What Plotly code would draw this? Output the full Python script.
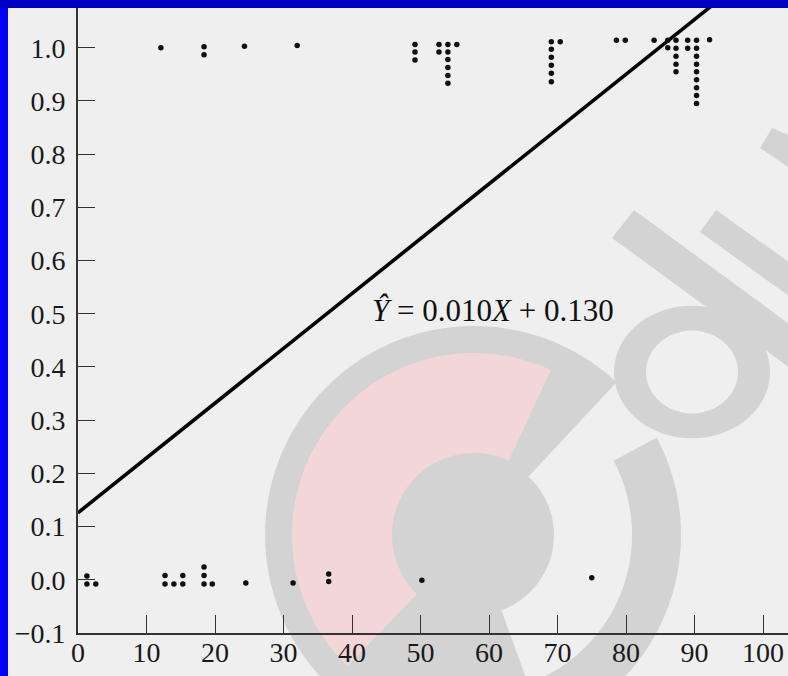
import math
import plotly.graph_objects as go

# ---------------- data ----------------
# observations with Y = 0 (stacked dots drawn slightly apart)
y0_x = [1.3, 1.3, 2.6, 12.7, 12.7, 14.0, 15.3, 15.3, 18.4, 18.4, 18.4, 19.6,
        24.5, 31.4, 36.6, 36.6, 50.2, 75.0]
y0_y = [0.007, -0.008, -0.008, 0.008, -0.008, -0.008, 0.008, -0.008, 0.024,
        0.008, -0.008, -0.008, -0.006, -0.006, 0.011, -0.003, -0.001, 0.004]

# observations with Y = 1 (stacked dots hang downwards)
y1_x = [12.1, 18.4, 18.4, 24.3, 32.0,
        49.2, 49.2, 49.2,
        52.7, 52.7,
        54.0, 54.0, 54.0, 54.0, 54.0, 54.0,
        55.3,
        69.1, 69.1, 69.1, 69.1, 69.1, 69.1,
        70.4,
        78.6, 79.9, 84.1,
        86.1, 86.1,
        87.3, 87.3, 87.3, 87.3, 87.3,
        89.0, 89.0,
        90.3, 90.3, 90.3, 90.3, 90.3, 90.3, 90.3, 90.3, 90.3,
        92.2]
y1_y = [1.000, 1.002, 0.987, 1.003, 1.004,
        1.006, 0.992, 0.977,
        1.006, 0.992,
        1.006, 0.992, 0.978, 0.963, 0.948, 0.933,
        1.006,
        1.011, 0.997, 0.982, 0.967, 0.952, 0.936,
        1.011,
        1.014, 1.014, 1.014,
        1.014, 1.000,
        1.014, 0.999, 0.984, 0.969, 0.955,
        1.014, 0.999,
        1.014, 0.999, 0.984, 0.969, 0.955, 0.940, 0.925, 0.910, 0.895,
        1.015]

# fitted line as drawn
line_slope = 0.0103
line_intercept = 0.126
line_x = [0, 104]
line_y = [line_intercept + line_slope * v for v in line_x]

equation_text = "<i>Ŷ</i> = 0.010<i>X</i> + 0.130"

x_ticks = [0, 10, 20, 30, 40, 50, 60, 70, 80, 90, 100]
y_ticks = [-0.1, 0.0, 0.1, 0.2, 0.3, 0.4, 0.5, 0.6, 0.7, 0.8, 0.9, 1.0]
y_ticktext = ["\u22120.1", "0.0", "0.1", "0.2", "0.3", "0.4", "0.5", "0.6",
              "0.7", "0.8", "0.9", "1.0"]

# ---------------- layout geometry ----------------
W, H = 788, 676
ML, MB = 78, 43
PW, PH = W - ML, H - MB

FONT = "Liberation Serif, Times New Roman, serif"
BG = "#efefef"
WM_GRAY = "#d3d3d3"
WM_PINK = "#f3d6d7"


def P(px, py):
    """pixel -> paper coordinates"""
    return (px - ML) / PW, (PH - py) / PH


def path_from_pixels(pts):
    s = []
    for i, (px, py) in enumerate(pts):
        x, y = P(px, py)
        s.append(("M" if i == 0 else "L") + f"{x:.5f},{y:.5f}")
    return " ".join(s) + " Z"


def annulus(cx, cy, r_in, r_out, a0, a1, n=80, ry_scale=1.0):
    pts = []
    for i in range(n + 1):
        a = math.radians(a0 + (a1 - a0) * i / n)
        pts.append((cx + r_out * math.cos(a), cy - r_out * ry_scale * math.sin(a)))
    for i in range(n + 1):
        a = math.radians(a1 - (a1 - a0) * i / n)
        if r_in > 0:
            pts.append((cx + r_in * math.cos(a), cy - r_in * ry_scale * math.sin(a)))
    if r_in <= 0:
        pts.append((cx, cy))
    return pts


shapes = []


def add_path(pts, color, layer="below"):
    shapes.append(dict(type="path", xref="paper", yref="paper",
                       path=path_from_pixels(pts), fillcolor=color,
                       line=dict(width=0), layer=layer))


# watermark (decorative background)
C = (474, 535)
add_path(annulus(C[0], C[1], 0, 209, 47, 290), WM_GRAY)
add_path(annulus(C[0], C[1], 0, 80, 0, 360), WM_GRAY)
add_path(annulus(C[0], C[1], 82, 182, 65, 226), WM_PINK)
add_path(annulus(C[0], C[1], 158, 207, -70, 28), WM_GRAY)
# "d"-like ring and strokes at the right
add_path(annulus(692, 372, 0, 78, 0, 360, ry_scale=0.85), WM_GRAY)
add_path(annulus(692, 372, 0, 46, 0, 360, ry_scale=0.9), BG)
add_path([(612, 238), (634, 210), (800, 332), (790, 368)], WM_GRAY)
add_path([(700, 232), (716, 210), (800, 270), (800, 304)], WM_GRAY)
add_path([(760, 148), (772, 128), (800, 140), (800, 175)], WM_GRAY)

# blue scan border
shapes.append(dict(type="rect", xref="paper", yref="paper",
                   x0=P(0, 0)[0], x1=P(8, 0)[0], y0=P(0, H)[1], y1=P(0, 0)[1],
                   fillcolor="#0000f2", line=dict(width=0), layer="above"))
shapes.append(dict(type="rect", xref="paper", yref="paper",
                   x0=P(0, 0)[0], x1=P(W, 0)[0], y0=P(0, 8)[1], y1=P(0, 0)[1],
                   fillcolor="#0000c4", line=dict(width=0), layer="above"))

fig = go.Figure()
fig.add_trace(go.Scatter(x=line_x, y=line_y, mode="lines",
                         line=dict(color="#050505", width=3.6),
                         hoverinfo="skip", showlegend=False))
fig.add_trace(go.Scatter(x=y0_x, y=y0_y, mode="markers",
                         marker=dict(color="#101010", size=5.5),
                         showlegend=False))
fig.add_trace(go.Scatter(x=y1_x, y=y1_y, mode="markers",
                         marker=dict(color="#101010", size=5.5),
                         showlegend=False))

y_top = 1.0 + 47.7 / 531.8

fig.update_layout(
    width=W, height=H,
    margin=dict(l=ML, r=0, t=0, b=MB, pad=0),
    paper_bgcolor=BG, plot_bgcolor=BG,
    font=dict(family=FONT, size=28, color="#1a1a1a"),
    showlegend=False,
    shapes=shapes,
    xaxis=dict(range=[0, PW / 6.85], tickvals=x_ticks, ticks="inside",
               ticklen=18, tickwidth=1.4, tickcolor="#333",
               showline=True, linecolor="#333", linewidth=1.6,
               showgrid=False, zeroline=False, ticklabelstandoff=-6,
               tickfont=dict(family=FONT, size=28, color="#1a1a1a")),
    yaxis=dict(range=[-0.1, y_top], tickvals=y_ticks, ticktext=y_ticktext,
               ticks="inside", ticklen=17, tickwidth=1.4, tickcolor="#333",
               showline=True, linecolor="#333", linewidth=1.6,
               showgrid=False, zeroline=False, ticklabelstandoff=5,
               tickfont=dict(family=FONT, size=28, color="#1a1a1a")),
    annotations=[dict(x=60.6, y=0.506, xref="x", yref="y", text=equation_text,
                      showarrow=False, xanchor="center", yanchor="middle",
                      font=dict(family=FONT, size=31, color="#111"))],
)

fig.write_html("out.html",
               config={"displayModeBar": False},
               post_script="document.body.style.margin='0';"
                           "document.body.style.overflow='hidden';")
